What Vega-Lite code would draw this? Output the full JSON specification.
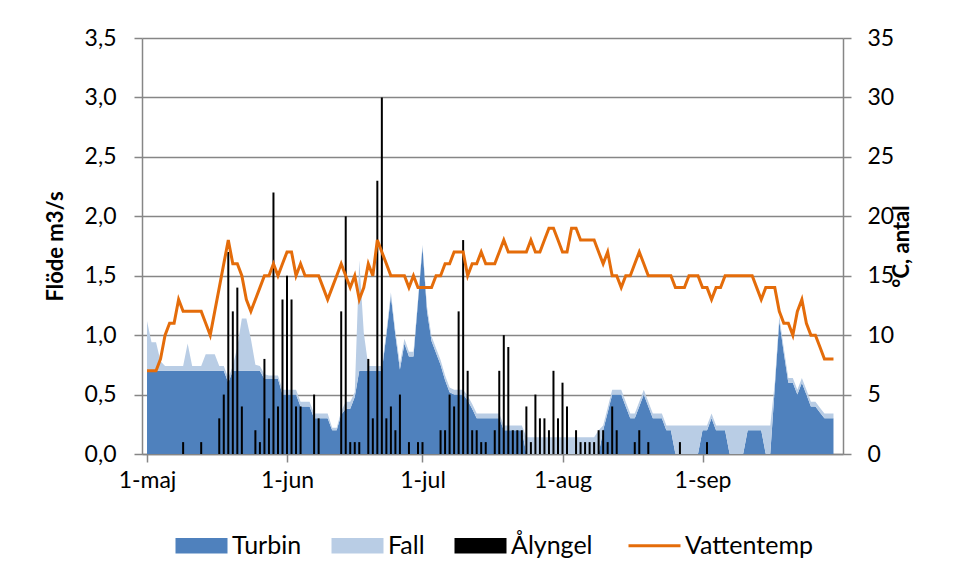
{
  "$schema": "https://vega.github.io/schema/vega-lite/v6.json",
  "width": 701,
  "height": 416,
  "autosize": {"type": "none"},
  "padding": {"left": 142, "top": 38, "right": 113, "bottom": 123},
  "background": "white",
  "config": {
    "view": {"stroke": null},
    "font": "Lato",
    "axis": {
      "labelFont": "Lato", "titleFont": "Lato", "labelColor": "#000", "titleColor": "#000",
      "domainColor": "#868686", "tickColor": "#868686", "gridColor": "#868686",
      "labelFontSize": 23, "titleFontSize": 22, "domainWidth": 1.5, "tickWidth": 1.5, "gridWidth": 1.5
    }
  },
  "data": {"values": [
    {"Datum":"2013-05-01","Turbin":0.7,"Fall":0.42,"Ålyngel":0,"Vattentemp":7},
    {"Datum":"2013-05-02","Turbin":0.7,"Fall":0.24,"Ålyngel":0,"Vattentemp":7},
    {"Datum":"2013-05-03","Turbin":0.7,"Fall":0.24,"Ålyngel":0,"Vattentemp":7},
    {"Datum":"2013-05-04","Turbin":0.7,"Fall":0.08,"Ålyngel":0,"Vattentemp":8},
    {"Datum":"2013-05-05","Turbin":0.7,"Fall":0.04,"Ålyngel":0,"Vattentemp":10},
    {"Datum":"2013-05-06","Turbin":0.7,"Fall":0.04,"Ålyngel":0,"Vattentemp":11},
    {"Datum":"2013-05-07","Turbin":0.7,"Fall":0.04,"Ålyngel":0,"Vattentemp":11},
    {"Datum":"2013-05-08","Turbin":0.7,"Fall":0.04,"Ålyngel":0,"Vattentemp":13},
    {"Datum":"2013-05-09","Turbin":0.7,"Fall":0.04,"Ålyngel":1,"Vattentemp":12},
    {"Datum":"2013-05-10","Turbin":0.7,"Fall":0.23,"Ålyngel":0,"Vattentemp":12},
    {"Datum":"2013-05-11","Turbin":0.7,"Fall":0.04,"Ålyngel":0,"Vattentemp":12},
    {"Datum":"2013-05-12","Turbin":0.7,"Fall":0.04,"Ålyngel":0,"Vattentemp":12},
    {"Datum":"2013-05-13","Turbin":0.7,"Fall":0.04,"Ålyngel":1,"Vattentemp":12},
    {"Datum":"2013-05-14","Turbin":0.7,"Fall":0.14,"Ålyngel":0,"Vattentemp":11},
    {"Datum":"2013-05-15","Turbin":0.7,"Fall":0.14,"Ålyngel":0,"Vattentemp":10},
    {"Datum":"2013-05-16","Turbin":0.7,"Fall":0.14,"Ålyngel":0,"Vattentemp":12},
    {"Datum":"2013-05-17","Turbin":0.7,"Fall":0.04,"Ålyngel":3,"Vattentemp":14},
    {"Datum":"2013-05-18","Turbin":0.7,"Fall":0.04,"Ålyngel":5,"Vattentemp":16},
    {"Datum":"2013-05-19","Turbin":0.6,"Fall":0.04,"Ålyngel":17,"Vattentemp":18},
    {"Datum":"2013-05-20","Turbin":0.7,"Fall":0.04,"Ålyngel":12,"Vattentemp":16},
    {"Datum":"2013-05-21","Turbin":0.7,"Fall":0.2,"Ålyngel":14,"Vattentemp":16},
    {"Datum":"2013-05-22","Turbin":0.7,"Fall":0.44,"Ålyngel":4,"Vattentemp":15},
    {"Datum":"2013-05-23","Turbin":0.7,"Fall":0.44,"Ålyngel":0,"Vattentemp":13},
    {"Datum":"2013-05-24","Turbin":0.7,"Fall":0.27,"Ålyngel":0,"Vattentemp":12},
    {"Datum":"2013-05-25","Turbin":0.7,"Fall":0.05,"Ålyngel":2,"Vattentemp":13},
    {"Datum":"2013-05-26","Turbin":0.7,"Fall":0.04,"Ålyngel":1,"Vattentemp":14},
    {"Datum":"2013-05-27","Turbin":0.63,"Fall":0.04,"Ålyngel":8,"Vattentemp":15},
    {"Datum":"2013-05-28","Turbin":0.63,"Fall":0.03,"Ålyngel":3,"Vattentemp":15},
    {"Datum":"2013-05-29","Turbin":0.63,"Fall":0.03,"Ålyngel":22,"Vattentemp":16},
    {"Datum":"2013-05-30","Turbin":0.63,"Fall":0.03,"Ålyngel":4,"Vattentemp":15},
    {"Datum":"2013-05-31","Turbin":0.5,"Fall":0.04,"Ålyngel":13,"Vattentemp":16},
    {"Datum":"2013-06-01","Turbin":0.5,"Fall":0.04,"Ålyngel":15,"Vattentemp":17},
    {"Datum":"2013-06-02","Turbin":0.5,"Fall":0.04,"Ålyngel":13,"Vattentemp":17},
    {"Datum":"2013-06-03","Turbin":0.5,"Fall":0.04,"Ålyngel":4,"Vattentemp":15},
    {"Datum":"2013-06-04","Turbin":0.4,"Fall":0.04,"Ålyngel":4,"Vattentemp":16},
    {"Datum":"2013-06-05","Turbin":0.4,"Fall":0.04,"Ålyngel":0,"Vattentemp":15},
    {"Datum":"2013-06-06","Turbin":0.4,"Fall":0.04,"Ålyngel":0,"Vattentemp":15},
    {"Datum":"2013-06-07","Turbin":0.3,"Fall":0.04,"Ålyngel":5,"Vattentemp":15},
    {"Datum":"2013-06-08","Turbin":0.3,"Fall":0.04,"Ålyngel":3,"Vattentemp":15},
    {"Datum":"2013-06-09","Turbin":0.3,"Fall":0.04,"Ålyngel":0,"Vattentemp":14},
    {"Datum":"2013-06-10","Turbin":0.3,"Fall":0.04,"Ålyngel":0,"Vattentemp":13},
    {"Datum":"2013-06-11","Turbin":0.2,"Fall":0.02,"Ålyngel":0,"Vattentemp":14},
    {"Datum":"2013-06-12","Turbin":0.2,"Fall":0.02,"Ålyngel":0,"Vattentemp":15},
    {"Datum":"2013-06-13","Turbin":0.33,"Fall":0.03,"Ålyngel":12,"Vattentemp":16},
    {"Datum":"2013-06-14","Turbin":0.38,"Fall":0.06,"Ålyngel":20,"Vattentemp":15},
    {"Datum":"2013-06-15","Turbin":0.38,"Fall":0.06,"Ålyngel":1,"Vattentemp":14},
    {"Datum":"2013-06-16","Turbin":0.48,"Fall":0.04,"Ålyngel":1,"Vattentemp":15},
    {"Datum":"2013-06-17","Turbin":0.7,"Fall":0.93,"Ålyngel":1,"Vattentemp":13},
    {"Datum":"2013-06-18","Turbin":0.7,"Fall":0.32,"Ålyngel":0,"Vattentemp":14},
    {"Datum":"2013-06-19","Turbin":0.7,"Fall":0.04,"Ålyngel":8,"Vattentemp":16},
    {"Datum":"2013-06-20","Turbin":0.7,"Fall":0.04,"Ålyngel":3,"Vattentemp":15},
    {"Datum":"2013-06-21","Turbin":0.7,"Fall":0.04,"Ålyngel":23,"Vattentemp":18},
    {"Datum":"2013-06-22","Turbin":0.7,"Fall":0.04,"Ålyngel":30,"Vattentemp":17},
    {"Datum":"2013-06-23","Turbin":1.0,"Fall":0.03,"Ålyngel":3,"Vattentemp":16},
    {"Datum":"2013-06-24","Turbin":1.33,"Fall":0.03,"Ålyngel":4,"Vattentemp":15},
    {"Datum":"2013-06-25","Turbin":1.0,"Fall":0.03,"Ålyngel":2,"Vattentemp":15},
    {"Datum":"2013-06-26","Turbin":0.71,"Fall":0.05,"Ålyngel":5,"Vattentemp":15},
    {"Datum":"2013-06-27","Turbin":0.93,"Fall":0.04,"Ålyngel":0,"Vattentemp":15},
    {"Datum":"2013-06-28","Turbin":0.82,"Fall":0.04,"Ålyngel":1,"Vattentemp":14},
    {"Datum":"2013-06-29","Turbin":0.82,"Fall":0.04,"Ålyngel":0,"Vattentemp":15},
    {"Datum":"2013-06-30","Turbin":1.28,"Fall":0.02,"Ålyngel":1,"Vattentemp":14},
    {"Datum":"2013-07-01","Turbin":1.74,"Fall":0.02,"Ålyngel":1,"Vattentemp":14},
    {"Datum":"2013-07-02","Turbin":1.2,"Fall":0.04,"Ålyngel":0,"Vattentemp":14},
    {"Datum":"2013-07-03","Turbin":0.95,"Fall":0.04,"Ålyngel":0,"Vattentemp":14},
    {"Datum":"2013-07-04","Turbin":0.85,"Fall":0.04,"Ålyngel":0,"Vattentemp":15},
    {"Datum":"2013-07-05","Turbin":0.75,"Fall":0.04,"Ålyngel":2,"Vattentemp":15},
    {"Datum":"2013-07-06","Turbin":0.62,"Fall":0.04,"Ålyngel":2,"Vattentemp":16},
    {"Datum":"2013-07-07","Turbin":0.52,"Fall":0.04,"Ålyngel":5,"Vattentemp":16},
    {"Datum":"2013-07-08","Turbin":0.5,"Fall":0.04,"Ålyngel":4,"Vattentemp":17},
    {"Datum":"2013-07-09","Turbin":0.5,"Fall":0.04,"Ålyngel":12,"Vattentemp":17},
    {"Datum":"2013-07-10","Turbin":0.5,"Fall":0.04,"Ålyngel":18,"Vattentemp":17},
    {"Datum":"2013-07-11","Turbin":0.45,"Fall":0.04,"Ålyngel":7,"Vattentemp":15},
    {"Datum":"2013-07-12","Turbin":0.38,"Fall":0.04,"Ålyngel":2,"Vattentemp":16},
    {"Datum":"2013-07-13","Turbin":0.3,"Fall":0.04,"Ålyngel":2,"Vattentemp":16},
    {"Datum":"2013-07-14","Turbin":0.3,"Fall":0.04,"Ålyngel":1,"Vattentemp":17},
    {"Datum":"2013-07-15","Turbin":0.3,"Fall":0.04,"Ålyngel":1,"Vattentemp":16},
    {"Datum":"2013-07-16","Turbin":0.3,"Fall":0.04,"Ålyngel":0,"Vattentemp":16},
    {"Datum":"2013-07-17","Turbin":0.3,"Fall":0.04,"Ålyngel":2,"Vattentemp":16},
    {"Datum":"2013-07-18","Turbin":0.3,"Fall":0.04,"Ålyngel":7,"Vattentemp":17},
    {"Datum":"2013-07-19","Turbin":0.2,"Fall":0.04,"Ålyngel":10,"Vattentemp":18},
    {"Datum":"2013-07-20","Turbin":0.2,"Fall":0.04,"Ålyngel":9,"Vattentemp":17},
    {"Datum":"2013-07-21","Turbin":0.2,"Fall":0.04,"Ålyngel":2,"Vattentemp":17},
    {"Datum":"2013-07-22","Turbin":0.2,"Fall":0.04,"Ålyngel":2,"Vattentemp":17},
    {"Datum":"2013-07-23","Turbin":0.2,"Fall":0.04,"Ålyngel":2,"Vattentemp":17},
    {"Datum":"2013-07-24","Turbin":0,"Fall":0.14,"Ålyngel":4,"Vattentemp":17},
    {"Datum":"2013-07-25","Turbin":0,"Fall":0.14,"Ålyngel":1,"Vattentemp":18},
    {"Datum":"2013-07-26","Turbin":0,"Fall":0.14,"Ålyngel":5,"Vattentemp":17},
    {"Datum":"2013-07-27","Turbin":0,"Fall":0.14,"Ålyngel":3,"Vattentemp":17},
    {"Datum":"2013-07-28","Turbin":0,"Fall":0.14,"Ålyngel":3,"Vattentemp":18},
    {"Datum":"2013-07-29","Turbin":0,"Fall":0.14,"Ålyngel":2,"Vattentemp":19},
    {"Datum":"2013-07-30","Turbin":0,"Fall":0.14,"Ålyngel":7,"Vattentemp":19},
    {"Datum":"2013-07-31","Turbin":0,"Fall":0.14,"Ålyngel":3,"Vattentemp":18},
    {"Datum":"2013-08-01","Turbin":0,"Fall":0.14,"Ålyngel":6,"Vattentemp":17},
    {"Datum":"2013-08-02","Turbin":0,"Fall":0.14,"Ålyngel":4,"Vattentemp":17},
    {"Datum":"2013-08-03","Turbin":0,"Fall":0.14,"Ålyngel":0,"Vattentemp":19},
    {"Datum":"2013-08-04","Turbin":0,"Fall":0.14,"Ålyngel":2,"Vattentemp":19},
    {"Datum":"2013-08-05","Turbin":0,"Fall":0.14,"Ålyngel":1,"Vattentemp":18},
    {"Datum":"2013-08-06","Turbin":0,"Fall":0.14,"Ålyngel":1,"Vattentemp":18},
    {"Datum":"2013-08-07","Turbin":0,"Fall":0.14,"Ålyngel":1,"Vattentemp":18},
    {"Datum":"2013-08-08","Turbin":0,"Fall":0.14,"Ålyngel":1,"Vattentemp":18},
    {"Datum":"2013-08-09","Turbin":0,"Fall":0.2,"Ålyngel":2,"Vattentemp":17},
    {"Datum":"2013-08-10","Turbin":0.2,"Fall":0.04,"Ålyngel":2,"Vattentemp":16},
    {"Datum":"2013-08-11","Turbin":0.35,"Fall":0.04,"Ålyngel":1,"Vattentemp":17},
    {"Datum":"2013-08-12","Turbin":0.5,"Fall":0.04,"Ålyngel":4,"Vattentemp":15},
    {"Datum":"2013-08-13","Turbin":0.5,"Fall":0.04,"Ålyngel":2,"Vattentemp":15},
    {"Datum":"2013-08-14","Turbin":0.5,"Fall":0.04,"Ålyngel":0,"Vattentemp":14},
    {"Datum":"2013-08-15","Turbin":0.4,"Fall":0.04,"Ålyngel":0,"Vattentemp":15},
    {"Datum":"2013-08-16","Turbin":0.3,"Fall":0.04,"Ålyngel":0,"Vattentemp":15},
    {"Datum":"2013-08-17","Turbin":0.3,"Fall":0.04,"Ålyngel":1,"Vattentemp":16},
    {"Datum":"2013-08-18","Turbin":0.4,"Fall":0.04,"Ålyngel":2,"Vattentemp":17},
    {"Datum":"2013-08-19","Turbin":0.5,"Fall":0.04,"Ålyngel":0,"Vattentemp":16},
    {"Datum":"2013-08-20","Turbin":0.4,"Fall":0.04,"Ålyngel":1,"Vattentemp":15},
    {"Datum":"2013-08-21","Turbin":0.3,"Fall":0.04,"Ålyngel":0,"Vattentemp":15},
    {"Datum":"2013-08-22","Turbin":0.3,"Fall":0.04,"Ålyngel":0,"Vattentemp":15},
    {"Datum":"2013-08-23","Turbin":0.3,"Fall":0.04,"Ålyngel":0,"Vattentemp":15},
    {"Datum":"2013-08-24","Turbin":0.2,"Fall":0.04,"Ålyngel":0,"Vattentemp":15},
    {"Datum":"2013-08-25","Turbin":0.2,"Fall":0.04,"Ålyngel":0,"Vattentemp":15},
    {"Datum":"2013-08-26","Turbin":0,"Fall":0.24,"Ålyngel":0,"Vattentemp":14},
    {"Datum":"2013-08-27","Turbin":0,"Fall":0.24,"Ålyngel":1,"Vattentemp":14},
    {"Datum":"2013-08-28","Turbin":0,"Fall":0.24,"Ålyngel":0,"Vattentemp":14},
    {"Datum":"2013-08-29","Turbin":0,"Fall":0.24,"Ålyngel":0,"Vattentemp":15},
    {"Datum":"2013-08-30","Turbin":0,"Fall":0.24,"Ålyngel":0,"Vattentemp":15},
    {"Datum":"2013-08-31","Turbin":0,"Fall":0.24,"Ålyngel":0,"Vattentemp":15},
    {"Datum":"2013-09-01","Turbin":0.2,"Fall":0.04,"Ålyngel":0,"Vattentemp":14},
    {"Datum":"2013-09-02","Turbin":0.2,"Fall":0.04,"Ålyngel":1,"Vattentemp":14},
    {"Datum":"2013-09-03","Turbin":0.3,"Fall":0.04,"Ålyngel":0,"Vattentemp":13},
    {"Datum":"2013-09-04","Turbin":0.2,"Fall":0.04,"Ålyngel":0,"Vattentemp":14},
    {"Datum":"2013-09-05","Turbin":0.2,"Fall":0.04,"Ålyngel":0,"Vattentemp":14},
    {"Datum":"2013-09-06","Turbin":0.2,"Fall":0.04,"Ålyngel":0,"Vattentemp":15},
    {"Datum":"2013-09-07","Turbin":0,"Fall":0.24,"Ålyngel":0,"Vattentemp":15},
    {"Datum":"2013-09-08","Turbin":0,"Fall":0.24,"Ålyngel":0,"Vattentemp":15},
    {"Datum":"2013-09-09","Turbin":0,"Fall":0.24,"Ålyngel":0,"Vattentemp":15},
    {"Datum":"2013-09-10","Turbin":0,"Fall":0.24,"Ålyngel":0,"Vattentemp":15},
    {"Datum":"2013-09-11","Turbin":0.2,"Fall":0.04,"Ålyngel":0,"Vattentemp":15},
    {"Datum":"2013-09-12","Turbin":0.2,"Fall":0.04,"Ålyngel":0,"Vattentemp":15},
    {"Datum":"2013-09-13","Turbin":0.2,"Fall":0.04,"Ålyngel":0,"Vattentemp":14},
    {"Datum":"2013-09-14","Turbin":0.2,"Fall":0.04,"Ålyngel":0,"Vattentemp":13},
    {"Datum":"2013-09-15","Turbin":0,"Fall":0.24,"Ålyngel":0,"Vattentemp":14},
    {"Datum":"2013-09-16","Turbin":0,"Fall":0.24,"Ålyngel":0,"Vattentemp":14},
    {"Datum":"2013-09-17","Turbin":0.56,"Fall":0.04,"Ålyngel":0,"Vattentemp":14},
    {"Datum":"2013-09-18","Turbin":1.12,"Fall":0.04,"Ålyngel":0,"Vattentemp":12},
    {"Datum":"2013-09-19","Turbin":0.85,"Fall":0.04,"Ålyngel":0,"Vattentemp":11},
    {"Datum":"2013-09-20","Turbin":0.6,"Fall":0.04,"Ålyngel":0,"Vattentemp":11},
    {"Datum":"2013-09-21","Turbin":0.6,"Fall":0.04,"Ålyngel":0,"Vattentemp":10},
    {"Datum":"2013-09-22","Turbin":0.5,"Fall":0.04,"Ålyngel":0,"Vattentemp":12},
    {"Datum":"2013-09-23","Turbin":0.6,"Fall":0.04,"Ålyngel":0,"Vattentemp":13},
    {"Datum":"2013-09-24","Turbin":0.5,"Fall":0.04,"Ålyngel":0,"Vattentemp":11},
    {"Datum":"2013-09-25","Turbin":0.4,"Fall":0.04,"Ålyngel":0,"Vattentemp":10},
    {"Datum":"2013-09-26","Turbin":0.4,"Fall":0.04,"Ålyngel":0,"Vattentemp":10},
    {"Datum":"2013-09-27","Turbin":0.35,"Fall":0.04,"Ålyngel":0,"Vattentemp":9},
    {"Datum":"2013-09-28","Turbin":0.3,"Fall":0.04,"Ålyngel":0,"Vattentemp":8},
    {"Datum":"2013-09-29","Turbin":0.3,"Fall":0.04,"Ålyngel":0,"Vattentemp":8},
    {"Datum":"2013-09-30","Turbin":0.3,"Fall":0.04,"Ålyngel":0,"Vattentemp":8}
  ]},
  "encoding": {
    "x": {
      "field": "Datum", "type": "temporal", "title": null,
      "scale": {"type": "utc", "domain": [{"year": 2013, "month": 5, "date": 1, "utc": true}, {"year": 2013, "month": 10, "date": 1, "utc": true}]},
      "axis": {
        "values": [
          {"year": 2013, "month": 5, "date": 1, "utc": true},
          {"year": 2013, "month": 6, "date": 1, "utc": true},
          {"year": 2013, "month": 7, "date": 1, "utc": true},
          {"year": 2013, "month": 8, "date": 1, "utc": true},
          {"year": 2013, "month": 9, "date": 1, "utc": true}
        ],
        "labelExpr": "'1-' + ['jan','feb','mar','apr','maj','jun','jul','aug','sep','okt','nov','dec'][utcmonth(datum.value)]",
        "tickSize": 8, "labelPadding": 7, "grid": false, "labelFlush": false
      }
    }
  },
  "layer": [
    {
      "transform": [{"fold": ["Turbin", "Fall"], "as": ["Serie", "Flöde"]}],
      "mark": {"type": "area", "line": false, "interpolate": "linear"},
      "encoding": {
        "y": {
          "field": "Flöde", "type": "quantitative", "stack": "zero",
          "scale": {"domain": [0, 3.5]},
          "axis": {
            "orient": "left", "values": [0, 0.5, 1, 1.5, 2, 2.5, 3, 3.5],
            "labelExpr": "replace(format(datum.value, '.1f'), '.', ',')",
            "grid": true, "tickSize": 8, "labelPadding": 18,
            "title": "Flöde m3/s", "titleFontWeight": "bold", "titlePadding": 17
          }
        },
        "color": {
          "field": "Serie", "type": "nominal",
          "scale": {"domain": ["Turbin", "Fall", "Ålyngel", "Vattentemp"], "range": ["#4F81BD", "#B9CDE5", "#000000", "#E46C0A"]},
          "legend": {
            "title": null, "orient": "none", "legendX": 47, "legendY": 495, "direction": "horizontal",
            "symbolSize": 2704, "symbolType": "M-1,-0.3H1V0.3H-1Z",
            "labelFont": "Lato", "labelFontSize": 25, "labelColor": "#000", "labelOffset": 18, "columnPadding": 29,
            "encode": {
              "symbols": {
                "update": {
                  "shape": {"signal": "datum.label === 'Vattentemp' ? 'M-1,0H1' : 'M-1,-0.3H1V0.3H-1Z'"},
                  "fill": {"signal": "datum.label === 'Turbin' ? '#4F81BD' : datum.label === 'Fall' ? '#B9CDE5' : datum.label === 'Vattentemp' ? 'transparent' : '#000000'"},
                  "stroke": {"signal": "datum.label === 'Vattentemp' ? '#E46C0A' : 'transparent'"},
                  "strokeWidth": {"signal": "datum.label === 'Vattentemp' ? 3 : 0"},
                  "opacity": {"value": 1}
                }
              }
            }
          }
        },
        "order": {"field": "Serie", "sort": "descending"}
      }
    },
    {
      "layer": [
        {
          "mark": {"type": "bar", "size": 2},
          "encoding": {
            "y": {
              "field": "Ålyngel", "type": "quantitative",
              "scale": {"domain": [0, 35]},
              "title": "°C, antal",
              "axis": {
                "orient": "right", "values": [0, 5, 10, 15, 20, 25, 30, 35],
                "grid": false, "tickSize": 8, "labelPadding": 16,
                "title": "°C, antal", "titleFontWeight": "bold", "titleAngle": 270, "titlePadding": 20
              }
            },
            "color": {"datum": "Ålyngel"}
          }
        },
        {
          "mark": {"type": "line", "strokeWidth": 3, "interpolate": "linear"},
          "encoding": {
            "y": {"field": "Vattentemp", "type": "quantitative", "title": "°C, antal"},
            "color": {"datum": "Vattentemp"}
          }
        }
      ]
    }
  ],
  "resolve": {"scale": {"y": "independent"}}
}
